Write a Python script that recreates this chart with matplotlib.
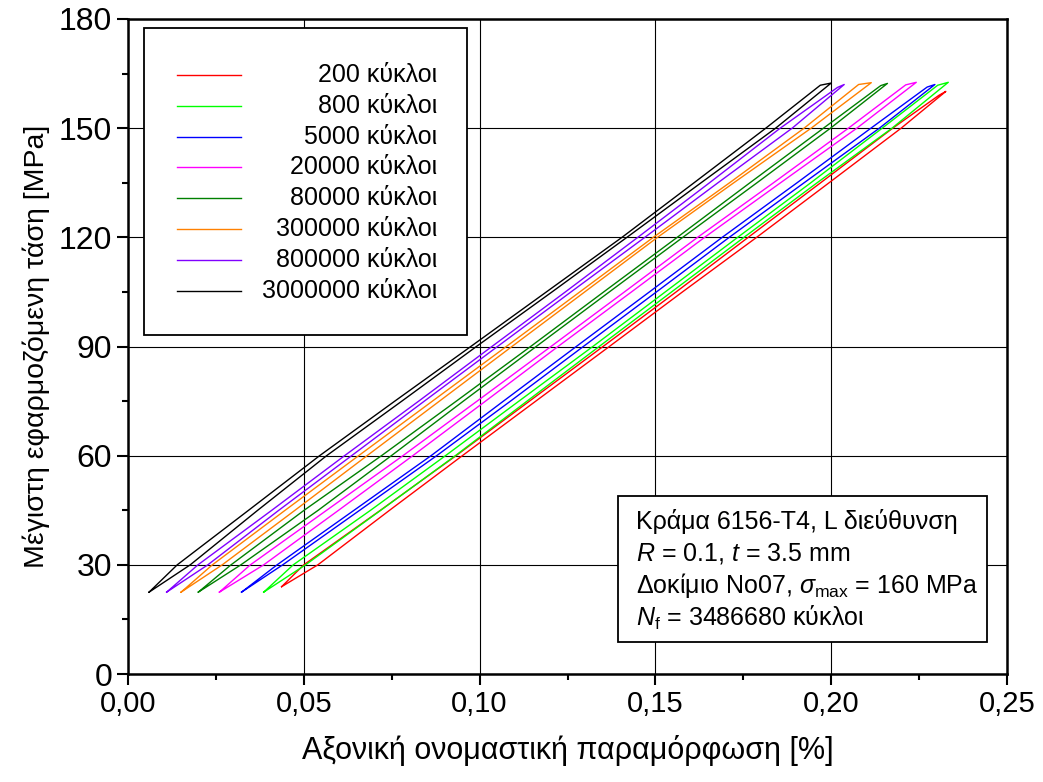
import matplotlib
matplotlib.use("Agg")
import matplotlib.pyplot as plt
from matplotlib.patches import Rectangle
from matplotlib.ticker import MultipleLocator, FuncFormatter

# Βρόχοι υστέρησης: φόρτιση (δεξιός κλάδος) και αποφόρτιση (αριστερός κλάδος)
cycles = ["200", "800", "5000", "20000", "80000", "300000", "800000", "3000000"]
colors = ["#ff0000", "#00ff00", "#0000ff", "#ff00ff", "#008000", "#ff8000", "#8000ff", "#000000"]

s_load = [22.5, 30, 45, 60, 75, 90, 105, 120, 135, 150]
s_unload = [150, 135, 120, 105, 90, 75, 60, 45, 30, 22.5]

top_stress = [160.1, 162.6, 162.0, 162.6, 162.3, 162.5, 162.0, 162.4]
kink_stress = [159.0, 161.8, 161.3, 161.9, 161.7, 162.0, 161.2, 161.8]
bottom_stress = [24.0, 22.5, 22.5, 22.5, 22.5, 22.5, 22.5, 22.5]

load_200 = [0.0437, 0.0540, 0.0744, 0.0951, 0.1160, 0.1369, 0.1577, 0.1788, 0.1994, 0.2199, 0.2326]
unload_200 = [0.2306, 0.2175, 0.1970, 0.1764, 0.1559, 0.1351, 0.1142, 0.0933, 0.0718, 0.0500, 0.0437]
load_800 = [0.0386, 0.0505, 0.0719, 0.0931, 0.1135, 0.1340, 0.1546, 0.1752, 0.1960, 0.2173, 0.2333]
unload_800 = [0.2303, 0.2145, 0.1942, 0.1734, 0.1528, 0.1322, 0.1112, 0.0903, 0.0690, 0.0470, 0.0386]
load_5000 = [0.0323, 0.0440, 0.0659, 0.0878, 0.1088, 0.1295, 0.1503, 0.1710, 0.1923, 0.2137, 0.2295]
unload_5000 = [0.2273, 0.2113, 0.1903, 0.1690, 0.1483, 0.1275, 0.1068, 0.0862, 0.0643, 0.0424, 0.0323]
load_20000 = [0.0260, 0.0386, 0.0599, 0.0810, 0.1017, 0.1223, 0.1432, 0.1640, 0.1856, 0.2073, 0.2242]
unload_20000 = [0.2212, 0.2049, 0.1836, 0.1620, 0.1412, 0.1203, 0.0993, 0.0782, 0.0565, 0.0348, 0.0260]
load_80000 = [0.0200, 0.0321, 0.0541, 0.0749, 0.0954, 0.1161, 0.1369, 0.1578, 0.1789, 0.1998, 0.2160]
unload_80000 = [0.2141, 0.1978, 0.1769, 0.1562, 0.1353, 0.1145, 0.0934, 0.0721, 0.0501, 0.0293, 0.0200]
load_300000 = [0.0151, 0.0268, 0.0475, 0.0680, 0.0886, 0.1092, 0.1299, 0.1506, 0.1723, 0.1943, 0.2114]
unload_300000 = [0.2078, 0.1923, 0.1711, 0.1494, 0.1285, 0.1076, 0.0866, 0.0656, 0.0447, 0.0240, 0.0151]
load_800000 = [0.0110, 0.0227, 0.0429, 0.0636, 0.0843, 0.1051, 0.1260, 0.1470, 0.1678, 0.1889, 0.2037]
unload_800000 = [0.2018, 0.1855, 0.1654, 0.1450, 0.1244, 0.1035, 0.0827, 0.0616, 0.0409, 0.0199, 0.0110]
load_3000000 = [0.0060, 0.0177, 0.0369, 0.0565, 0.0779, 0.0991, 0.1206, 0.1419, 0.1630, 0.1842, 0.2000]
unload_3000000 = [0.1969, 0.1814, 0.1610, 0.1405, 0.1190, 0.0975, 0.0759, 0.0545, 0.0343, 0.0140, 0.0060]

loads = [load_200, load_800, load_5000, load_20000, load_80000, load_300000, load_800000, load_3000000]
unloads = [unload_200, unload_800, unload_5000, unload_20000, unload_80000, unload_300000,
           unload_800000, unload_3000000]

REGULAR = ["Liberation Sans", "DejaVu Sans"]
plt.rcParams["font.family"] = REGULAR
plt.rcParams["mathtext.fontset"] = "custom"
plt.rcParams["mathtext.it"] = "Liberation Sans:italic"
plt.rcParams["mathtext.rm"] = "Liberation Sans"

fig = plt.figure(figsize=(10.43, 7.82), dpi=100)
ax = fig.add_axes([128 / 1043, 108 / 782, 879 / 1043, 655 / 782])

for i in range(len(cycles)):
    sl = [bottom_stress[i]] + s_load[1:] + [top_stress[i]]
    su = [kink_stress[i]] + s_unload[:-1] + [bottom_stress[i]]
    ax.plot(loads[i] + unloads[i], sl + su, color=colors[i], lw=1.0, zorder=3)

ax.set_xlim(0, 0.25)
ax.set_ylim(0, 180)
ax.xaxis.set_major_locator(MultipleLocator(0.05))
ax.xaxis.set_minor_locator(MultipleLocator(0.025))
ax.yaxis.set_major_locator(MultipleLocator(30))
ax.yaxis.set_minor_locator(MultipleLocator(15))
ax.xaxis.set_major_formatter(FuncFormatter(lambda v, p: f"{v:.2f}".replace(".", ",")))
ax.grid(True, which="major", color="black", lw=0.8, zorder=1)
ax.tick_params(which="major", direction="out", length=8, width=1.5, labelsize=21)
ax.tick_params(which="minor", direction="out", length=4, width=1.5)
ax.tick_params(axis="y", which="major", labelsize=23)
for sp in ax.spines.values():
    sp.set_linewidth(1.8)

ax.set_xlabel("Αξονική ονομαστική παραμόρφωση [%]", fontsize=22, labelpad=12)
ax.set_ylabel("Μέγιστη εφαρμοζόμενη τάση [MPa]", fontsize=20.5, labelpad=6)

# υπόμνημα
W, H = 879.0, 655.0
def fx(px):
    return (px - 128) / W
def fy(py):
    return (674 - py) / H

ax.add_patch(Rectangle((fx(144), fy(335)), fx(467) - fx(144), fy(28) - fy(335),
                       transform=ax.transAxes, facecolor="white", edgecolor="black",
                       lw=1.3, zorder=5))
for i, c in enumerate(cycles):
    yy = fy(75 + i * 30.8)
    ax.plot([fx(177), fx(241)], [yy, yy], color=colors[i], lw=1.0,
            transform=ax.transAxes, zorder=6)
    ax.text(fx(437), yy, f"{c} κύκλοι", transform=ax.transAxes, ha="right",
            va="center", fontsize=18, zorder=6)

# πλαίσιο πληροφοριών
ax.add_patch(Rectangle((fx(618), fy(642)), fx(987) - fx(618), fy(496) - fy(642),
                       transform=ax.transAxes, facecolor="white", edgecolor="black",
                       lw=1.3, zorder=5))
info = ["Κράμα 6156-T4, L διεύθυνση",
        "$R$ = 0.1, $t$ = 3.5 mm",
        r"Δοκίμιο No07, $\sigma_{\rm max}$ = 160 MPa",
        "$N_{\\rm f}$ = 3486680 κύκλοι"]
for j, t in enumerate(info):
    ax.text(fx(636), fy(522 + j * 32), t, transform=ax.transAxes, ha="left",
            va="center", fontsize=18, zorder=6)

fig.savefig("out.png", dpi=100)
